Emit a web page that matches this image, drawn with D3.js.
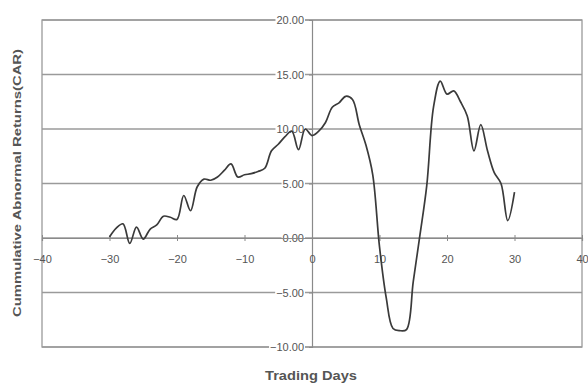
<!DOCTYPE html>
<html><head><meta charset="utf-8">
<script src="https://cdn.jsdelivr.net/npm/d3@7"></script>
<style>body{margin:0;background:#fff}svg{display:block}</style>
</head><body><svg id="c" width="588" height="383"></svg>
<script>
const days = d3.range(-30, 31);
const car = [0.1,0.9,1.3,-0.5,1.0,-0.1,0.8,1.2,2.0,1.9,1.7,3.9,2.5,4.7,5.4,5.3,5.6,6.2,6.8,5.6,5.8,5.9,6.1,6.4,8.0,8.6,9.3,9.8,8.1,10.0,
  9.4,9.8,10.6,12.0,12.4,13.0,12.7,10.4,8.5,5.8,-0.8,-5.5,-8.3,-8.5,-8.4,-4.0,0.3,4.8,12.0,14.4,13.2,13.5,12.5,11.2,8.0,10.4,8.0,6.0,5.0,1.6,4.2];
const xTicks = [-40,-30,-20,-10,0,10,20,30,40];
const yTicks = [-10,-5,0,5,10,15,20];
const xTitle = "Trading Days";
const yTitle = "Cummulative Abnormal Returns(CAR)";

const svg = d3.select("#c");
const L=42, R=582, T=20, B=347;
const x = d3.scaleLinear().domain([-40,40]).range([L,R]);
const y = d3.scaleLinear().domain([-10,20]).range([B,T]);
const font = "Liberation Sans, Arial, sans-serif";

// gridlines
svg.append("g").selectAll("line").data(yTicks).join("line")
  .attr("x1",L).attr("x2",R).attr("y1",d=>y(d)).attr("y2",d=>y(d))
  .attr("stroke","#9a9a9a").attr("stroke-width",1.3);
// border
svg.append("rect").attr("x",L).attr("y",T).attr("width",R-L).attr("height",B-T)
  .attr("fill","none").attr("stroke","#9a9a9a").attr("stroke-width",1.3);

// y axis at x=0
const yAxis = d3.axisLeft(y).tickValues(yTicks).tickFormat(d3.format(".2f")).tickSize(3).tickPadding(4);
const gy = svg.append("g").attr("transform",`translate(${x(0)},0)`).call(yAxis);
gy.select(".domain").attr("stroke","#8a8a8a").attr("stroke-width",1.2);
gy.selectAll(".tick line").attr("stroke","#8a8a8a");
gy.selectAll("text").attr("font-family",font).attr("font-size",11).attr("fill","#555")
  .attr("x",-8);
gy.selectAll(".tick text").each(function(){
  const bb=this.getBBox();
  d3.select(this.parentNode).insert("rect","text").attr("x",bb.x-1).attr("y",bb.y+2).attr("width",bb.width+2).attr("height",bb.height-4).attr("fill","#fff");
});

// x axis at y=0
const xAxis = d3.axisBottom(x).tickValues(xTicks).tickFormat(d3.format("d")).tickSize(3).tickPadding(14);
const gx = svg.append("g").attr("transform",`translate(0,${y(0)})`).call(xAxis);
gx.select(".domain").attr("stroke","#8a8a8a").attr("stroke-width",1.2);
gx.selectAll(".tick line").attr("stroke","#8a8a8a").attr("y1",-3);
gx.selectAll("text").attr("font-family",font).attr("font-size",11).attr("fill","#555");

// line
const line = d3.line().x((d,i)=>x(days[i])).y(d=>y(d)).curve(d3.curveCatmullRom.alpha(0.5));
svg.append("path").datum(car).attr("d",line).attr("fill","none")
  .attr("stroke","#3a3a3a").attr("stroke-width",1.7).attr("stroke-linejoin","round");

// titles
svg.append("text").attr("x",311).attr("y",380).attr("text-anchor","middle")
  .attr("font-family",font).attr("font-size",12).attr("font-weight","bold").attr("fill","#555")
  .attr("textLength",92).attr("lengthAdjust","spacingAndGlyphs").text(xTitle);
svg.append("text").attr("transform","translate(21,183) rotate(-90)").attr("text-anchor","middle")
  .attr("font-family",font).attr("font-size",11).attr("font-weight","bold").attr("fill","#555")
  .attr("textLength",268).attr("lengthAdjust","spacingAndGlyphs").text(yTitle);
</script></body></html>
